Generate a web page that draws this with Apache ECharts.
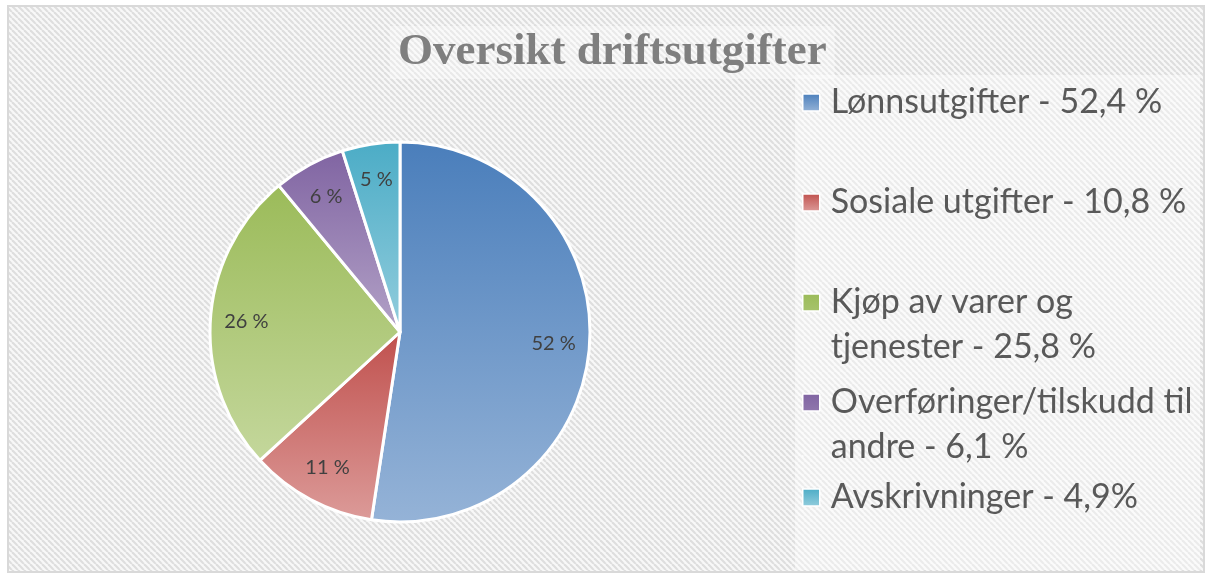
<!DOCTYPE html>
<html>
<head>
<meta charset="utf-8">
<script src="https://cdn.jsdelivr.net/npm/echarts@6/dist/echarts.min.js"></script>
<style>
  html, body { margin: 0; padding: 0; background: #fff; }
  #chart { width: 1215px; height: 580px; }
</style>
</head>
<body>
<div id="chart"></div>
<script>
  // data
  const names = ['Lønnsutgifter', 'Sosiale utgifter', 'Kjøp av varer og tjenester', 'Overføringer/tilskudd til andre', 'Avskrivninger']
  const values = [52.4, 10.8, 25.8, 6.1, 4.9]
  const legendTexts = [
    'Lønnsutgifter - 52,4 %',
    'Sosiale utgifter - 10,8 %',
    'Kjøp av varer og\ntjenester - 25,8 %',
    'Overføringer/tilskudd til\nandre - 6,1 %',
    'Avskrivninger - 4,9%'
  ]
  const topColors = ['#4a7ebb', '#c0504d', '#9bbb59', '#8064a2', '#4bacc6']
  const bottomColors = ['#95b3d7', '#dc9b99', '#c4d79c', '#b3a2c7', '#93cddd']

  // diagonal hatch for the chart area
  function makeHatch() {
    const c = document.createElement('canvas')
    c.width = 6
    c.height = 6
    const ctx = c.getContext('2d')
    ctx.fillStyle = '#f8f8f8'
    ctx.fillRect(0, 0, 6, 6)
    ctx.strokeStyle = '#dedede'
    ctx.lineWidth = 2.2
    for (let k = -6; k <= 12; k += 6) {
      ctx.beginPath()
      ctx.moveTo(k, 0)
      ctx.lineTo(k + 6, 6)
      ctx.stroke()
    }
    return c
  }

  const chart = echarts.init(document.getElementById('chart'))

  const pieData = names.map((n, i) => ({
    name: n,
    value: values[i],
    itemStyle: {
      color: new echarts.graphic.LinearGradient(0, 0, 0, 1, [
        { offset: 0, color: topColors[i] },
        { offset: 1, color: bottomColors[i] }
      ])
    }
  }))

  const legendTops = [75, 175, 275, 375, 470]
  const twoLine = [false, false, true, true, false]
  const legends = names.map((n, i) => ({
    data: [n],
    left: 797,
    top: legendTops[i],
    orient: 'vertical',
    selectedMode: false,
    itemWidth: 17,
    itemHeight: twoLine[i] ? 62 : 17,
    icon: twoLine[i] ? 'path://M0,0h17v17h-17zM0,61.9h0.1v0.1h-0.1z' : 'rect',
    itemStyle: { borderWidth: 1.5 },
    formatter: () => legendTexts[i],
    textStyle: {
      fontFamily: 'Lato',
      fontSize: 34,
      color: '#595959',
      lineHeight: 45,
      padding: [0, 0, 0, 6]
    }
  }))

  chart.setOption({
    backgroundColor: '#fff',
    animation: false,
    graphic: [
      {
        type: 'rect',
        z: -10,
        shape: { x: 8, y: 6, width: 1196, height: 566 },
        style: { fill: { image: makeHatch(), repeat: 'repeat' }, stroke: '#d9d9d9', lineWidth: 2 }
      },
      {
        type: 'rect',
        z: -9,
        shape: { x: 795, y: 75, width: 405, height: 495 },
        style: { fill: 'rgba(255,255,255,0.4)' }
      }
    ],
    title: {
      text: 'Oversikt driftsutgifter',
      left: 390,
      top: 26,
      padding: [4, 8],
      backgroundColor: 'rgba(255,255,255,0.35)',
      textStyle: {
        fontFamily: 'Liberation Serif',
        fontWeight: 'bold',
        fontSize: 45,
        color: '#7f7f7f'
      }
    },
    legend: legends,
    series: [
      {
        type: 'pie',
        center: [400, 332],
        radius: 190,
        startAngle: 90,
        clockwise: true,
        silent: true,
        itemStyle: { borderColor: '#fff', borderWidth: 3 },
        label: { show: false },
        labelLine: { show: false },
        data: pieData
      },
      {
        // transparent twin, only used to place the value labels further out
        type: 'pie',
        center: [400, 332],
        radius: 302,
        startAngle: 90,
        clockwise: true,
        silent: true,
        z: 3,
        itemStyle: { color: 'rgba(0,0,0,0)', borderWidth: 0 },
        label: {
          show: true,
          position: 'inside',
          fontFamily: 'Lato',
          fontSize: 20,
          color: '#404040',
          formatter: p => Math.round(p.value) + ' %'
        },
        labelLine: { show: false },
        data: names.map((n, i) => ({ name: n, value: values[i] }))
      }
    ]
  })
</script>
</body>
</html>
